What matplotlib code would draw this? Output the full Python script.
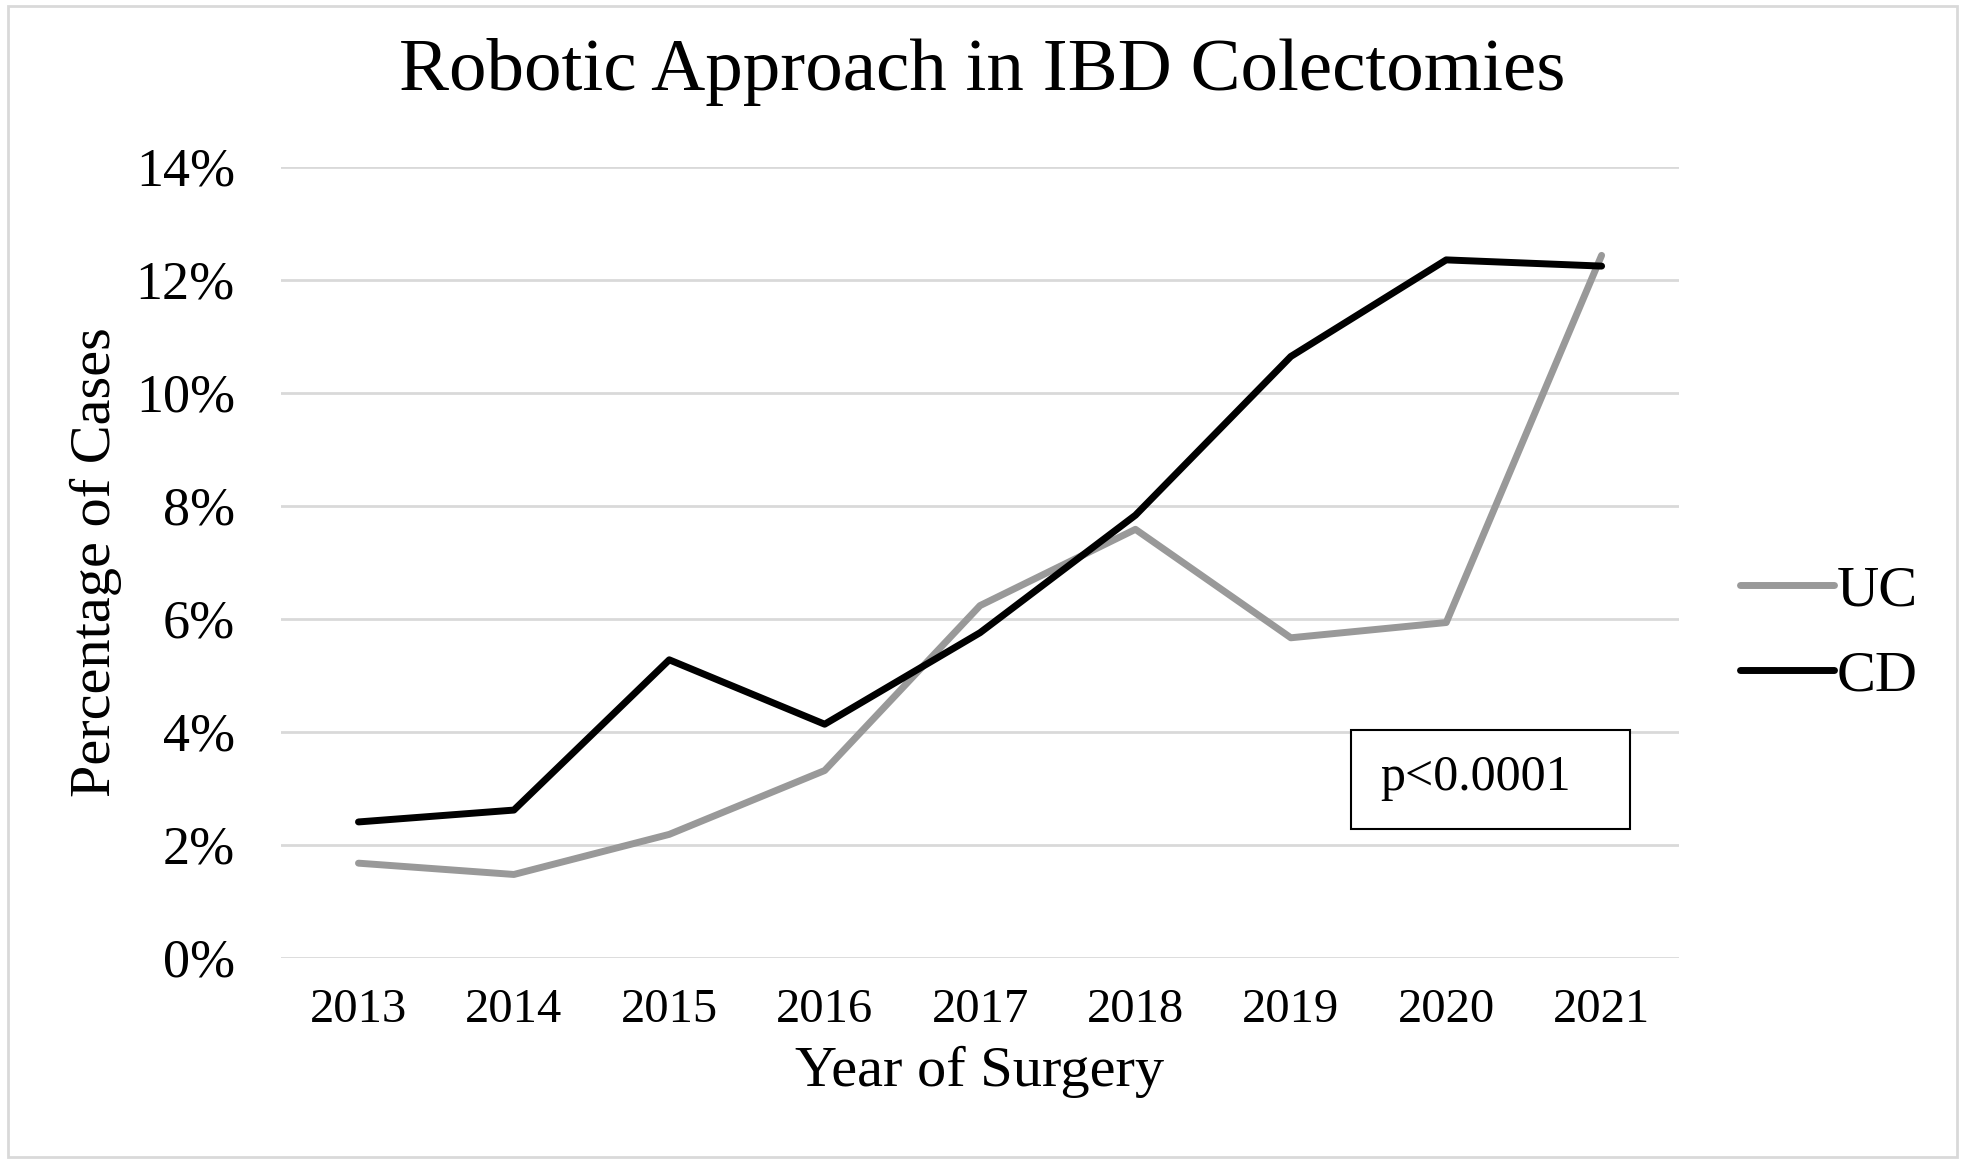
import matplotlib
matplotlib.use("Agg")
import matplotlib.pyplot as plt
from matplotlib.patches import Rectangle
from matplotlib.ticker import FuncFormatter

years = ["2013", "2014", "2015", "2016", "2017", "2018", "2019", "2020", "2021"]
uc = [1.67, 1.47, 2.18, 3.31, 6.23, 7.58, 5.66, 5.93, 12.43]
cd = [2.40, 2.61, 5.27, 4.13, 5.75, 7.83, 10.64, 12.35, 12.24]
yticks = [0, 2, 4, 6, 8, 10, 12, 14]

plt.rcParams['font.family'] = ['Liberation Serif', 'DejaVu Serif']

fig = plt.figure(figsize=(19.65, 11.64), dpi=100)
ax = fig.add_axes([0.1429, 0.1774, 0.7117, 0.6794])

x = list(range(len(years)))
ax.plot(x, uc, color='#999999', lw=5, solid_capstyle='round', label='UC', zorder=3)
ax.plot(x, cd, color='#000000', lw=5, solid_capstyle='round', label='CD', zorder=4)

ax.set_xlim(-0.5, len(years) - 0.5)
ax.set_ylim(0, 14)
ax.set_yticks(yticks)
ax.yaxis.set_major_formatter(FuncFormatter(lambda v, p: f"{int(v)}%"))
ax.set_xticks(x)
ax.set_xticklabels(years)
ax.grid(axis='y', color='#d9d9d9', lw=2)
ax.set_axisbelow(True)
for s in ax.spines.values():
    s.set_visible(False)
ax.tick_params(axis='both', length=0)
ax.tick_params(axis='x', labelsize=35, pad=22)
ax.tick_params(axis='y', labelsize=39, pad=33)

ax.set_xlabel("Year of Surgery", fontsize=42, labelpad=10)
ax.set_ylabel("Percentage of Cases", fontsize=42, labelpad=10)
fig.suptitle("Robotic Approach in IBD Colectomies", fontsize=54, y=0.967)

leg = ax.legend(loc='center left', bbox_to_anchor=(1.006, 0.41), frameon=False,
                fontsize=42, handlelength=1.6, handletextpad=0.05, labelspacing=0.55)

ax.add_patch(Rectangle((0.765, 0.163), 0.2, 0.125, transform=ax.transAxes,
                       fc='white', ec='black', lw=1.5, zorder=5))
ax.text(0.854, 0.227, "p<0.0001", transform=ax.transAxes, fontsize=36,
        ha='center', va='center', zorder=6)

fig.patches.append(Rectangle((0.004, 0.006), 0.992, 0.989, transform=fig.transFigure,
                             fill=False, ec='#d9d9d9', lw=2))

fig.savefig("out.png", dpi=100)
